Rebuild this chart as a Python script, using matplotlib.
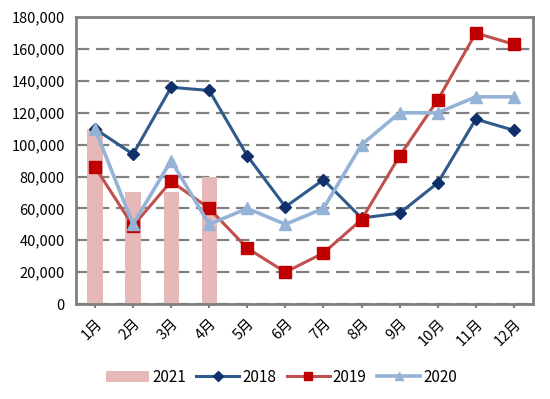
import numpy as np
import matplotlib.pyplot as plt
from matplotlib.ticker import FuncFormatter

plt.rcParams['font.family'] = ['Noto Sans CJK SC', 'DejaVu Sans']

months = ["1月", "2月", "3月", "4月", "5月", "6月",
          "7月", "8月", "9月", "10月", "11月", "12月"]
sales_2021 = [110000, 70000, 70000, 80000]
sales_2018 = [110000, 94000, 136000, 134000, 93000, 61000,
              78000, 54000, 57000, 76000, 116000, 109000]
sales_2019 = [86000, 49000, 77000, 60000, 35000, 20000,
              32000, 53000, 93000, 128000, 170000, 163000]
sales_2020 = [110000, 50000, 90000, 50000, 60000, 50000,
              60000, 100000, 120000, 120000, 130000, 130000]
y_ticks = [0, 20000, 40000, 60000, 80000, 100000, 120000, 140000, 160000, 180000]


def run():
    fig = plt.figure(figsize=(5.5, 3.99), dpi=100)
    ax = fig.add_axes([0.138, 0.238, 0.831, 0.719])

    x = np.arange(len(months))
    b = ax.bar(x[:len(sales_2021)], sales_2021, width=0.4, color="#E6B8B7",
               label="2021", zorder=2)
    l1, = ax.plot(x, sales_2018, color="#2F5A8C", linewidth=2.2, marker="D",
                  markersize=6, markerfacecolor="#10306A", markeredgecolor="#10306A",
                  label="2018", zorder=3)
    l2, = ax.plot(x, sales_2019, color="#C0504D", linewidth=2.2, marker="s",
                  markersize=8, markerfacecolor="#C00000", markeredgecolor="#C00000",
                  label="2019", zorder=4)
    l3, = ax.plot(x, sales_2020, color="#95B3D7", linewidth=2.6, marker="^",
                  markersize=8, markerfacecolor="#95B3D7", markeredgecolor="#95B3D7",
                  label="2020", zorder=5)

    ax.set_xlim(-0.5, len(months) - 0.5)
    ax.set_ylim(0, 180000)
    ax.set_yticks(y_ticks)
    ax.yaxis.set_major_formatter(FuncFormatter(lambda v, p: "{:,}".format(int(v))))
    ax.set_xticks(x)
    ax.set_xticklabels(months, rotation=45, ha="right", rotation_mode="anchor")
    ax.tick_params(axis="x", labelsize=10.5, length=3, color="#808080", width=1.5, pad=6)
    ax.tick_params(axis="y", labelsize=10.5, length=0, pad=8)

    ax.yaxis.grid(True, color="#808080", linestyle=(0, (6, 3)), linewidth=1.6, zorder=0)
    ax.set_axisbelow(True)
    for s in ax.spines.values():
        s.set_color("#808080")
        s.set_linewidth(2)

    ax.legend([b, l1, l2, l3], ["2021", "2018", "2019", "2020"],
              loc="center", bbox_to_anchor=(0.45, -0.255), ncol=4, frameon=False,
              fontsize=11, handlelength=2.8, columnspacing=0.7, handletextpad=0.2,
              markerscale=0.8)

    fig.savefig("out.png", dpi=100)


if __name__ == "__main__":
    run()
